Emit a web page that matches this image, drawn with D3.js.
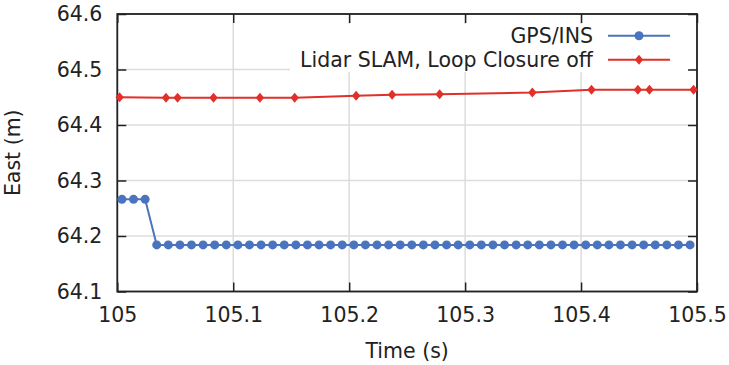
<!DOCTYPE html>
<html><head><meta charset="utf-8">
<script src="https://cdn.jsdelivr.net/npm/d3@7"></script>
<style>html,body{margin:0;padding:0;background:#fff}svg{display:block}text{font-family:"DejaVu Sans",sans-serif;fill:#222}</style>
</head><body><svg id="c" width="729" height="365"></svg>
<script>
const seriesNames = ["GPS/INS", "Lidar SLAM, Loop Closure off"];
const gpsTime = [105.004,105.014,105.024,105.034,105.044,105.054,105.064,105.074,105.084,105.094,
  105.104,105.114,105.124,105.134,105.144,105.154,105.164,105.174,105.184,105.194,
  105.204,105.214,105.224,105.234,105.244,105.254,105.264,105.274,105.284,105.294,
  105.304,105.314,105.324,105.334,105.344,105.354,105.364,105.374,105.384,105.394,
  105.404,105.414,105.424,105.434,105.444,105.454,105.464,105.474,105.484,105.494];
const gpsEast = [64.266,64.266,64.266,64.184,64.184,64.184,64.184,64.184,64.184,64.184,
  64.184,64.184,64.184,64.184,64.184,64.184,64.184,64.184,64.184,64.184,
  64.184,64.184,64.184,64.184,64.184,64.184,64.184,64.184,64.184,64.184,
  64.184,64.184,64.184,64.184,64.184,64.184,64.184,64.184,64.184,64.184,
  64.184,64.184,64.184,64.184,64.184,64.184,64.184,64.184,64.184,64.184];
const slamTime = [105.002,105.042,105.052,105.083,105.123,105.153,105.206,105.237,105.278,105.358,105.409,105.449,105.459,105.497];
const slamEast = [64.450,64.449,64.449,64.449,64.449,64.449,64.4525,64.4545,64.4555,64.4585,64.4635,64.4635,64.4635,64.4635];
const xTicks = [105,105.1,105.2,105.3,105.4,105.5];
const yTicks = [64.1,64.2,64.3,64.4,64.5,64.6];
const colors = ["#4a74bd", "#e0302a"];
const FS = 20.5;

const svg = d3.select("#c");
const L = 117.3, R = 697, T = 14, B = 291.5;
const x = d3.scaleLinear().domain([105,105.5]).range([L,R]);
const y = d3.scaleLinear().domain([64.1,64.6]).range([B,T]);

// grid
const g = svg.append("g");
g.selectAll("line.vx").data(xTicks).enter().append("line")
  .attr("x1",d=>x(d)).attr("x2",d=>x(d)).attr("y1",T).attr("y2",B)
  .attr("stroke","#dcdcdc").attr("stroke-width",1.5);
g.selectAll("line.hy").data(yTicks).enter().append("line")
  .attr("y1",d=>y(d)).attr("y2",d=>y(d)).attr("x1",L).attr("x2",R)
  .attr("stroke","#dcdcdc").attr("stroke-width",1.5);

// legend background
svg.append("rect").attr("x",290).attr("y",24).attr("width",400).attr("height",48).attr("fill","#fff");

// axes
const tl = 9;
const axB = svg.append("g").attr("transform",`translate(0,${B})`)
  .call(d3.axisBottom(x).tickValues(xTicks).tickSize(-tl).tickPadding(19).tickFormat(d3.format("")));
const axT = svg.append("g").attr("transform",`translate(0,${T})`)
  .call(d3.axisTop(x).tickValues(xTicks).tickSize(-tl).tickFormat(""));
const axL = svg.append("g").attr("transform",`translate(${L},0)`)
  .call(d3.axisLeft(y).tickValues(yTicks).tickSize(-tl).tickPadding(15).tickFormat(d3.format(".1f")));
const axR = svg.append("g").attr("transform",`translate(${R},0)`)
  .call(d3.axisRight(y).tickValues(yTicks).tickSize(-tl).tickFormat(""));
[axB,axT,axL,axR].forEach(a=>{
  a.select(".domain").remove();
  a.selectAll("line").attr("stroke","#222").attr("stroke-width",1.5);
  a.selectAll("text").attr("font-size",FS).attr("font-family","DejaVu Sans").attr("fill","#222");
});
axB.selectAll("text").attr("dy","0.71em").attr("y",16);
svg.append("rect").attr("x",L).attr("y",T).attr("width",R-L).attr("height",B-T)
  .attr("fill","none").attr("stroke","#222").attr("stroke-width",1.8);

// series
const line = d3.line().x(d=>x(d[0])).y(d=>y(d[1]));
const gps = gpsTime.map((t,i)=>[t,gpsEast[i]]);
const slam = slamTime.map((t,i)=>[t,slamEast[i]]);
svg.append("path").datum(gps).attr("d",line).attr("fill","none").attr("stroke",colors[0]).attr("stroke-width",2);
svg.selectAll("circle.g").data(gps).enter().append("circle")
  .attr("cx",d=>x(d[0])).attr("cy",d=>y(d[1])).attr("r",4.5).attr("fill",colors[0]);
svg.append("path").datum(slam).attr("d",line).attr("fill","none").attr("stroke",colors[1]).attr("stroke-width",2);
const diamond = (cx,cy)=>`M${cx},${cy-5}L${cx+4.2},${cy}L${cx},${cy+5}L${cx-4.2},${cy}Z`;
svg.selectAll("path.s").data(slam).enter().append("path")
  .attr("d",d=>diamond(x(d[0]),y(d[1]))).attr("fill",colors[1]);

// legend
const leg = svg.append("g");
[35.7,59.7].forEach((ly,i)=>{
  leg.append("text").attr("x",593).attr("y",ly+7.5).attr("text-anchor","end")
    .attr("font-size",FS).text(seriesNames[i]);
  leg.append("line").attr("x1",608).attr("x2",670).attr("y1",ly).attr("y2",ly)
    .attr("stroke",colors[i]).attr("stroke-width",2);
  if(i===0) leg.append("circle").attr("cx",639).attr("cy",ly).attr("r",4.5).attr("fill",colors[0]);
  else leg.append("path").attr("d",diamond(639,ly)).attr("fill",colors[1]);
});

// axis titles
svg.append("text").attr("x",(L+R)/2).attr("y",358).attr("text-anchor","middle").attr("font-size",FS).text("Time (s)");
svg.append("text").attr("transform",`translate(20,${(T+B)/2}) rotate(-90)`).attr("text-anchor","middle").attr("font-size",FS).text("East (m)");
</script></body></html>
